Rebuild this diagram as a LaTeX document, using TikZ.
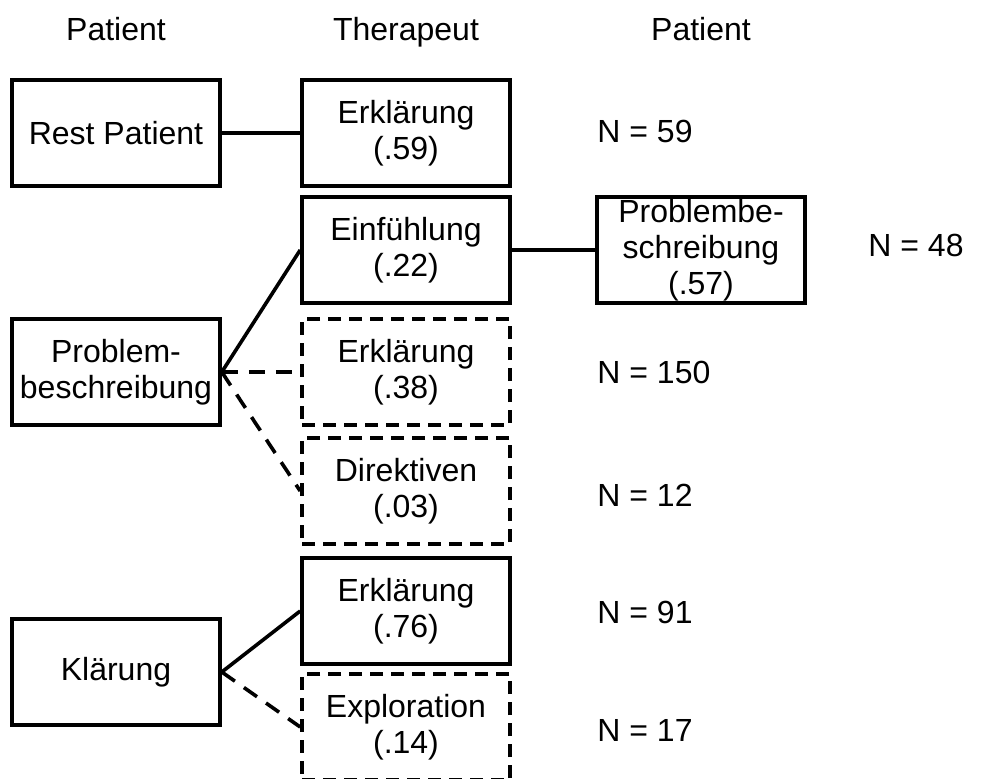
\documentclass[tikz,border=0pt]{standalone}
\usepackage{fontspec}
\setmainfont{Liberation Sans}
\usetikzlibrary{positioning}

\begin{document}
\begin{tikzpicture}[x=0.5pt,y=-0.5pt,every node/.style={font=\fontsize{16}{18}\selectfont}]
  \tikzstyle{box}=[draw,line width=1.8pt,minimum width=104pt,minimum height=53pt,align=center,inner sep=0pt]
  \tikzstyle{dbox}=[box,dash pattern=on 6.5pt off 4pt]
  \tikzstyle{link}=[line width=1.8pt]
  \tikzstyle{dlink}=[link,dash pattern=on 8pt off 5.5pt]
  \tikzstyle{count}=[anchor=west,inner sep=0pt]
  \tikzstyle{head}=[anchor=base,inner sep=0pt]

  \def\xa{116}
  \def\xb{406}
  \def\xc{701}
  \def\xn{597}

  \useasboundingbox (0,0) rectangle (995,778);

  % HEADERS
  \node[head] (head1) at (\xa,40) {Patient};
  \node[head] (head2) at (\xb,40) {Therapeut};
  \node[head] (head3) at (\xc,40) {Patient};

  % PATIENT
  \node[box] (rest) at (\xa,133) {Rest Patient};
  \node[box] (prob) at (\xa,372) {Problem-\\beschreibung};
  \node[box] (klar) at (\xa,672) {Klärung};

  % THERAPEUT
  \node[box] (erk1) at (\xb,133) {Erklärung\\(.59)};
  \node[box] (einf) at (\xb,250) {Einfühlung\\(.22)};
  \node[dbox] (erk2) at (\xb,372) {Erklärung\\(.38)};
  \node[dbox] (dir) at (\xb,491) {Direktiven\\(.03)};
  \node[box] (erk3) at (\xb,611) {Erklärung\\(.76)};
  \node[dbox] (expl) at (\xb,727) {Exploration\\(.14)};

  % PATIENT 2
  \node[box] (prob2) at (\xc,250) {Problembe-\\schreibung\\(.57)};

  % COUNTS
  \node[count] (n1) at (\xn,131) {N = 59};
  \node[count] (n2) at (868,245) {N = 48};
  \node[count] (n3) at (\xn,372) {N = 150};
  \node[count] (n4) at (\xn,495) {N = 12};
  \node[count] (n5) at (\xn,612) {N = 91};
  \node[count] (n6) at (\xn,730) {N = 17};

  % LINKS
  \draw[link] (rest.east) -- (erk1.west);
  \draw[link] (prob.east) -- (einf.west);
  \draw[dlink] (prob.east) -- (erk2.west);
  \draw[dlink] (prob.east) -- (dir.west);
  \draw[link] (einf.east) -- (prob2.west);
  \draw[link] (klar.east) -- (erk3.west);
  \draw[dlink] (klar.east) -- (expl.west);
\end{tikzpicture}
\end{document}
